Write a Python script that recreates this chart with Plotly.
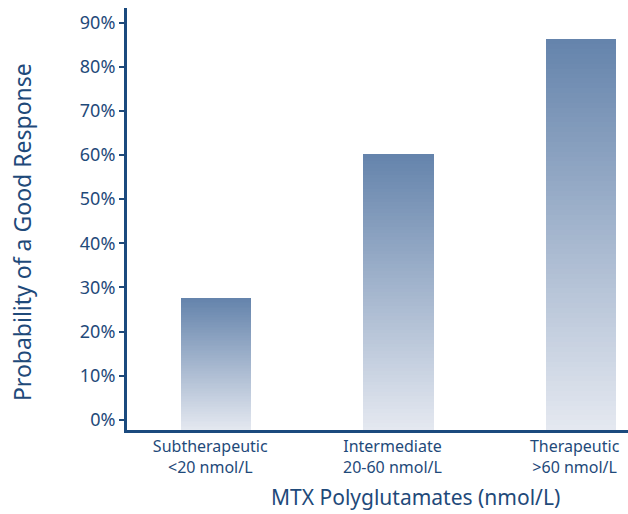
import plotly.graph_objects as go

# ---- data ----
categories = ["Subtherapeutic", "Intermediate", "Therapeutic"]
category_sublabels = ["<20 nmol/L", "20-60 nmol/L", ">60 nmol/L"]
good_response_pct = [27.6, 60.2, 86.2]
y_tick_values = [0, 10, 20, 30, 40, 50, 60, 70, 80, 90]
y_tick_labels = [f"{v}%" for v in y_tick_values]
x_tick_labels = [f"{c}<br>{s}" for c, s in zip(categories, category_sublabels)]

# ---- style ----
TEXT = "#1f4a7a"
AXIS = "#1b4a7e"
TOP_RGB = (101, 132, 172)
BOT_RGB = (228, 232, 240)
Y_MIN, Y_MAX = -2.3, 93.3
N_SEG = 80
FONT = "Noto Sans"


def mix(t):
    r, g, b = (round(BOT_RGB[j] + (TOP_RGB[j] - BOT_RGB[j]) * t) for j in range(3))
    return f"rgb({r},{g},{b})"


xs, bases, heights, colors = [], [], [], []
for cat, v in zip(categories, good_response_pct):
    seg = (v - Y_MIN) / N_SEG
    for k in range(N_SEG):
        xs.append(cat)
        bases.append(Y_MIN + seg * k)
        heights.append(seg * 1.001)
        colors.append(mix(k / (N_SEG - 1)))

fig = go.Figure(
    go.Bar(
        x=xs,
        y=heights,
        base=bases,
        width=0.385,
        marker=dict(color=colors, line=dict(width=0)),
        hoverinfo="skip",
        showlegend=False,
    )
)

annotations = [
    dict(
        x=0.575, xref="paper", y=-0.159, yref="paper",
        text="MTX Polyglutamates (nmol/L)", showarrow=False,
        xanchor="center", yanchor="middle",
        font=dict(family=FONT, size=21, color=TEXT),
    ),
    dict(
        x=-0.2096, xref="paper", y=0.469, yref="paper",
        text="Probability of a Good Response", showarrow=False, textangle=-90,
        xanchor="center", yanchor="middle",
        font=dict(family=FONT, size=23, color=TEXT),
    ),
]

fig.update_layout(
    width=628,
    height=514,
    margin=dict(l=127, r=0, t=8, b=84),
    paper_bgcolor="white",
    plot_bgcolor="white",
    barmode="overlay",
    bargap=0,
    annotations=annotations,
    xaxis=dict(
        type="category",
        categoryorder="array",
        categoryarray=categories,
        tickmode="array",
        tickvals=categories,
        ticktext=x_tick_labels,
        range=[-0.49, 2.26],
        showline=True,
        linecolor=AXIS,
        linewidth=3,
        ticks="",
        showgrid=False,
        zeroline=False,
        ticklabelshift=-6,
        ticklabelstandoff=0,
        tickfont=dict(family=FONT, size=16, color=TEXT),
        fixedrange=True,
    ),
    yaxis=dict(
        range=[Y_MIN, Y_MAX],
        tickmode="array",
        tickvals=y_tick_values,
        ticktext=y_tick_labels,
        showline=True,
        linecolor=AXIS,
        linewidth=3,
        ticks="outside",
        ticklen=5,
        tickwidth=1.5,
        tickcolor=TEXT,
        showgrid=False,
        zeroline=False,
        tickfont=dict(family=FONT, size=18, color=TEXT),
        fixedrange=True,
    ),
)

fig.write_html(
    "out.html",
    config={"displayModeBar": False},
    post_script="document.body.style.margin='0';document.body.style.overflow='hidden';",
)
